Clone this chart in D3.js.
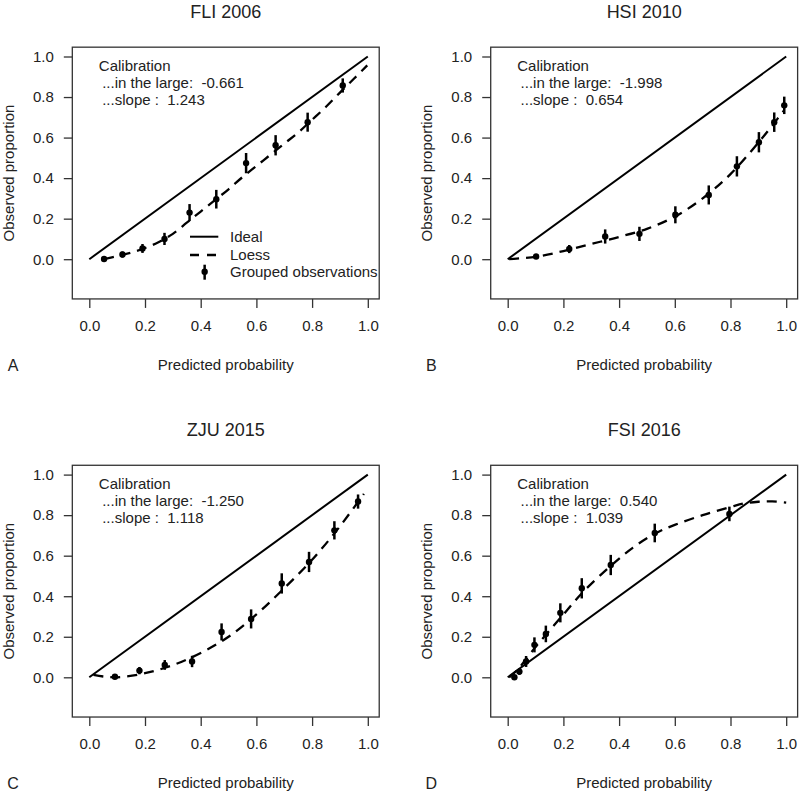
<!DOCTYPE html>
<html><head><meta charset="utf-8">
<script src="https://cdn.jsdelivr.net/npm/d3@7"></script>
<style>
html,body{margin:0;padding:0;background:#fff;}
svg text{font-family:"Liberation Sans",Arial,Helvetica,sans-serif;fill:#222;}
</style></head>
<body><svg id="c" width="800" height="793"></svg>
<script>
// ---------- data ----------
const panelTitles = ["FLI 2006", "HSI 2010", "ZJU 2015", "FSI 2016"];
const panelLetters = ["A", "B", "C", "D"];
const calibLarge = ["-0.661", "-1.998", "-1.250", "0.540"];
const calibSlope = ["1.243", "0.654", "1.118", "1.039"];
const tickValues = [0.0, 0.2, 0.4, 0.6, 0.8, 1.0];
const tickLabels = ["0.0", "0.2", "0.4", "0.6", "0.8", "1.0"];
const xLabel = "Predicted probability";
const yLabel = "Observed proportion";
const legendLabels = ["Ideal", "Loess", "Grouped observations"];

// grouped observations: predicted (x), observed (y), CI half-width (e)
const flX = [0.053, 0.119, 0.191, 0.270, 0.360, 0.456, 0.563, 0.669, 0.784, 0.910];
const flY = [0.001, 0.023, 0.053, 0.100, 0.230, 0.296, 0.474, 0.562, 0.676, 0.857];
const flE = [0.008, 0.015, 0.022, 0.030, 0.042, 0.046, 0.050, 0.050, 0.047, 0.035];
const hsX = [0.102, 0.221, 0.350, 0.473, 0.602, 0.722, 0.823, 0.902, 0.957, 0.993];
const hsY = [0.013, 0.050, 0.112, 0.125, 0.219, 0.317, 0.458, 0.577, 0.676, 0.759];
const hsE = [0.012, 0.020, 0.035, 0.035, 0.042, 0.047, 0.050, 0.050, 0.048, 0.043];
const zjX = [0.092, 0.180, 0.271, 0.369, 0.475, 0.581, 0.691, 0.789, 0.880, 0.965];
const zjY = [0.003, 0.033, 0.061, 0.078, 0.224, 0.288, 0.463, 0.569, 0.725, 0.867];
const zjE = [0.006, 0.018, 0.024, 0.028, 0.042, 0.047, 0.050, 0.050, 0.045, 0.035];
const fsX = [0.024, 0.042, 0.066, 0.096, 0.137, 0.189, 0.266, 0.370, 0.528, 0.796];
const fsY = [0.000, 0.028, 0.078, 0.160, 0.214, 0.318, 0.439, 0.554, 0.712, 0.806];
const fsE = [0.006, 0.016, 0.027, 0.037, 0.041, 0.047, 0.050, 0.050, 0.046, 0.036];

// loess curves
const flLX = [0.053, 0.10, 0.15, 0.20, 0.25, 0.30, 0.35, 0.40, 0.45, 0.50, 0.55, 0.60, 0.65, 0.70, 0.75, 0.80, 0.85, 0.90, 0.95, 0.998];
const flLY = [0.000, 0.015, 0.032, 0.055, 0.085, 0.125, 0.180, 0.235, 0.290, 0.345, 0.405, 0.460, 0.515, 0.570, 0.625, 0.688, 0.752, 0.822, 0.890, 0.956];
const hsLX = [0.005, 0.10, 0.20, 0.30, 0.40, 0.50, 0.60, 0.70, 0.80, 0.90, 0.95, 0.993];
const hsLY = [0.000, 0.012, 0.040, 0.075, 0.110, 0.150, 0.210, 0.300, 0.420, 0.575, 0.660, 0.735];
const zjLX = [0.015, 0.05, 0.10, 0.20, 0.30, 0.40, 0.50, 0.60, 0.70, 0.80, 0.90, 0.986];
const zjLY = [0.012, 0.004, 0.000, 0.020, 0.060, 0.120, 0.200, 0.310, 0.440, 0.580, 0.745, 0.905];
const fsLX = [0.005, 0.03, 0.06, 0.10, 0.15, 0.20, 0.27, 0.37, 0.45, 0.53, 0.60, 0.70, 0.80, 0.85, 0.90, 0.95, 1.0];
const fsLY = [0.000, 0.030, 0.078, 0.150, 0.230, 0.310, 0.420, 0.550, 0.640, 0.710, 0.752, 0.800, 0.840, 0.858, 0.866, 0.868, 0.862];

const panels = [
  {px: flX, py: flY, pe: flE, lx: flLX, ly: flLY},
  {px: hsX, py: hsY, pe: hsE, lx: hsLX, ly: hsLY},
  {px: zjX, py: zjY, pe: zjE, lx: zjLX, ly: zjLY},
  {px: fsX, py: fsY, pe: fsE, lx: fsLX, ly: fsLY}
];

// ---------- drawing ----------
const svg = d3.select("#c");
const dxCol = 418.4, dyRow = 418.1;
const xMin = -0.061, xMax = 1.041, yMin = -0.196, yMax = 1.046;

panels.forEach((p, i) => {
  const ox = (i % 2) * dxCol, oy = Math.floor(i / 2) * dyRow;
  const x = d3.scaleLinear().domain([0, 1]).range([89.3 + ox, 367.8 + ox]);
  const y = d3.scaleLinear().domain([0, 1]).range([259.2 + oy, 56.5 + oy]);
  const g = svg.append("g");
  const bx0 = x(xMin), bx1 = x(xMax), by0 = y(yMax), by1 = y(yMin);

  // box
  g.append("rect").attr("x", bx0).attr("y", by0).attr("width", bx1 - bx0).attr("height", by1 - by0)
    .attr("fill", "none").attr("stroke", "#333").attr("stroke-width", 1.3);

  // axes
  const xAxis = d3.axisBottom(x).tickValues(tickValues).tickFormat((d, k) => tickLabels[k]).tickSize(9).tickPadding(12);
  const gx = g.append("g").attr("transform", `translate(0,${by1})`).call(xAxis);
  gx.select(".domain").remove();
  const yAxis = d3.axisLeft(y).tickValues(tickValues).tickFormat((d, k) => tickLabels[k]).tickSize(8.5).tickPadding(10);
  const gy = g.append("g").attr("transform", `translate(${bx0},0)`).call(yAxis);
  gy.select(".domain").remove();
  [gx, gy].forEach(a => {
    a.selectAll("line").attr("stroke", "#333").attr("stroke-width", 1.3);
    a.selectAll("text").attr("font-size", 15).attr("fill", "#222")
      .attr("font-family", "'Liberation Sans',Arial,sans-serif");
  });

  // titles and labels
  const cx = (bx0 + bx1) / 2;
  g.append("text").attr("x", cx).attr("y", 17.5 + oy).attr("text-anchor", "middle").attr("font-size", 18).text(panelTitles[i]);
  g.append("text").attr("x", cx).attr("y", 370 + oy).attr("text-anchor", "middle").attr("font-size", 15).text(xLabel);
  g.append("text").attr("transform", `translate(${14 + ox},${(by0 + by1) / 2}) rotate(-90)`)
    .attr("text-anchor", "middle").attr("font-size", 15).text(yLabel);
  g.append("text").attr("x", 13 + ox).attr("y", 371 + oy).attr("text-anchor", "middle").attr("font-size", 16).text(panelLetters[i]);

  // calibration text
  const tx = bx0 + 26.5;
  g.append("text").attr("x", tx).attr("y", 70.5 + oy).attr("font-size", 15).text("Calibration");
  g.append("text").attr("x", tx + 3.4).attr("y", 88 + oy).attr("font-size", 15).style("white-space", "pre")
    .text("...in the large:  " + calibLarge[i]);
  g.append("text").attr("x", tx + 3.4).attr("y", 105.3 + oy).attr("font-size", 15).style("white-space", "pre")
    .text("...slope :  " + calibSlope[i]);

  // ideal line
  g.append("line").attr("x1", x(0)).attr("y1", y(0)).attr("x2", x(1)).attr("y2", y(1))
    .attr("stroke", "#000").attr("stroke-width", 2);

  // loess
  const pts = p.lx.map((v, k) => [v, p.ly[k]]);
  g.append("path").datum(pts)
    .attr("d", d3.line().x(d => x(d[0])).y(d => y(d[1])).curve(d3.curveCatmullRom.alpha(0.5)))
    .attr("fill", "none").attr("stroke", "#000").attr("stroke-width", 2.3).attr("stroke-dasharray", "10,7");

  // grouped observations
  p.px.forEach((v, k) => {
    g.append("line").attr("x1", x(v)).attr("x2", x(v)).attr("y1", y(p.py[k] - p.pe[k])).attr("y2", y(p.py[k] + p.pe[k]))
      .attr("stroke", "#000").attr("stroke-width", 2.5);
    g.append("circle").attr("cx", x(v)).attr("cy", y(p.py[k])).attr("r", 3.2).attr("fill", "#000");
  });

  // legend (panel A only)
  if (i === 0) {
    const lx0 = 190, lx1 = 218.3, ltx = 230;
    const ly = [236.7, 255, 271.7];
    g.append("line").attr("x1", lx0).attr("x2", lx1).attr("y1", ly[0]).attr("y2", ly[0]).attr("stroke", "#000").attr("stroke-width", 2);
    g.append("line").attr("x1", lx0).attr("x2", lx1 + 1).attr("y1", ly[1]).attr("y2", ly[1]).attr("stroke", "#000").attr("stroke-width", 2.3).attr("stroke-dasharray", "9,8");
    const mx = (lx0 + lx1) / 2 + 0.5;
    g.append("line").attr("x1", mx).attr("x2", mx).attr("y1", ly[2] - 7).attr("y2", ly[2] + 8).attr("stroke", "#000").attr("stroke-width", 2.5);
    g.append("circle").attr("cx", mx).attr("cy", ly[2]).attr("r", 3.2).attr("fill", "#000");
    legendLabels.forEach((t, k) => {
      g.append("text").attr("x", ltx).attr("y", ly[k] + 5.3).attr("font-size", 15).text(t);
    });
  }
});
</script></body></html>
